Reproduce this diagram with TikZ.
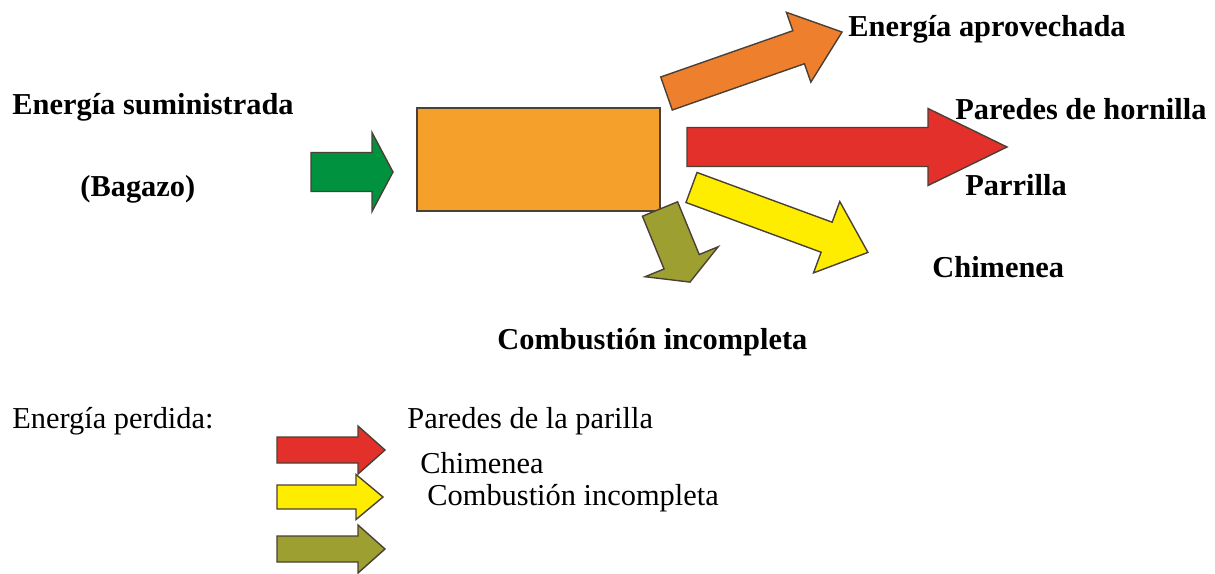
\documentclass[tikz,border=0pt]{standalone}
\usepackage{fontspec}
\setmainfont{Liberation Serif}
\usepackage{xcolor}
\usepackage{tikz}
\usetikzlibrary{positioning}
\definecolor{verde}{RGB}{0,146,63}
\definecolor{naranjacaja}{RGB}{244,160,42}
\definecolor{naranja}{RGB}{238,127,45}
\definecolor{rojo}{RGB}{227,48,43}
\definecolor{amarillo}{RGB}{255,237,0}
\definecolor{oliva}{RGB}{157,160,48}
\definecolor{borde}{RGB}{74,64,54}
\tikzset{
  bloque/.style={draw=borde, line width=0.7pt, line join=miter},
  caja/.style={bloque, fill=naranjacaja, rectangle, minimum width=121.5pt, minimum height=51.5pt, inner sep=0pt},
  titulo/.style={anchor=west, inner sep=0pt, font=\fontsize{15.2}{18}\selectfont\bfseries},
  leyenda/.style={anchor=west, inner sep=0pt, font=\fontsize{15.2}{18}\selectfont},
}
% colour, tail, angle, length, head length, shaft width, head width
\newcommand{\flecha}[7]{%
  \begin{scope}[shift={#2}, rotate=#3]
    \filldraw[bloque, fill=#1] (0,-#6/2) -- ({#4-#5},-#6/2) -- ({#4-#5},-#7/2)
      -- (#4,0) -- ({#4-#5},#7/2) -- ({#4-#5},#6/2) -- (0,#6/2) -- cycle;
  \end{scope}}

\begin{document}
\begin{tikzpicture}[x=0.5pt, y=-0.5pt]
  \useasboundingbox (0,0) rectangle (1215,573);

  \node[caja] (hornilla) at (538.5,159.5) {};
  \flecha{verde}{(311,172)}{0}{82}{21}{39}{79}
  \flecha{naranja}{(666.5,93.5)}{19.3}{186}{46}{35}{74}
  \flecha{rojo}{(687,147)}{0}{320}{79}{39}{77}
  \flecha{amarillo}{(691.5,187.5)}{-20.2}{188}{44}{32}{76}
  \flecha{oliva}{(660,209)}{-67.7}{79}{22}{38}{79}

  \node[titulo] (sumin) at (12,107) {Energía suministrada};
  \node[titulo] (bagazo) at (80,189) {(Bagazo)};
  \node[titulo] (aprov) at (848,29) {Energía aprovechada};
  \node[titulo] (paredes) at (955,109) {Paredes de hornilla};
  \node[titulo] (parrilla) at (965,185) {Parrilla};
  \node[titulo] (chimenea) at (932,267) {Chimenea};
  \node[titulo] (combust) at (497,342) {Combustión incompleta};

  % leyenda
  \flecha{rojo}{(277,450)}{0}{108}{27}{26}{48}
  \flecha{amarillo}{(277,497)}{0}{106}{27}{24}{45}
  \flecha{oliva}{(277,549)}{0}{108}{27}{26}{48}
  \node[leyenda] (perdida) at (12,421) {Energía perdida:};
  \node[leyenda] (leyrojo) at (407,421) {Paredes de la parilla};
  \node[leyenda] (leyamar) at (420,463) {Chimenea};
  \node[leyenda] (leyoliva) at (427,498) {Combustión incompleta};
\end{tikzpicture}
\end{document}
